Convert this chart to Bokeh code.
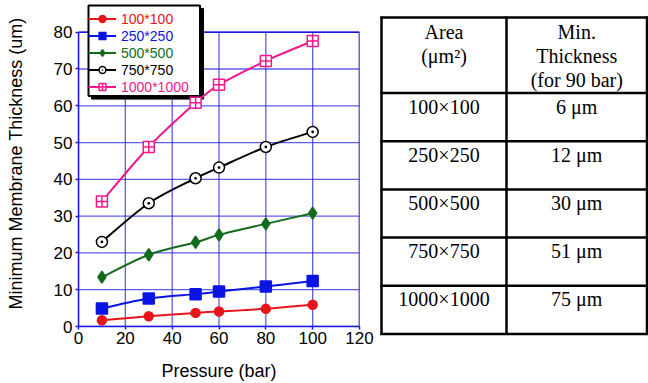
from bokeh.plotting import figure
from bokeh.models import Range1d, FixedTicker, Legend, LegendItem
from bokeh.layouts import row
from bokeh.core.properties import value
from bokeh.embed import file_html
from bokeh.resources import INLINE

# ---------------- data ----------------
pressure = [10, 30, 50, 60, 80, 100]
t100 = [1.7, 2.8, 3.7, 4.1, 4.8, 5.9]
t250 = [4.9, 7.6, 8.8, 9.5, 10.9, 12.4]
t500 = [13.4, 19.5, 22.9, 24.9, 27.9, 30.8]
t750 = [23.0, 33.5, 40.3, 43.2, 48.8, 52.9]
t1000 = [34.0, 48.8, 60.8, 65.7, 72.2, 77.6]
series_labels = ["100*100", "250*250", "500*500", "750*750", "1000*1000"]

x_ticks = [0, 20, 40, 60, 80, 100, 120]
y_ticks = [0, 10, 20, 30, 40, 50, 60, 70, 80]

table_areas = ["100×100", "250×250", "500×500", "750×750", "1000×1000"]
table_thickness = ["6 μm", "12 μm", "30 μm", "51 μm", "75 μm"]
header_col1 = ["Area", "(μm²)"]
header_col2 = ["Min.", "Thickness", "(for 90 bar)"]

# ---------------- styles ----------------
colors = ["#e8141c", "#0a14e6", "#136b1e", "#000000", "#f2188c"]
markers = ["circle", "square", "diamond", "circle_dot", "square_cross"]
msizes = [9, 11, 12, 11, 11]
mfill = ["#e8141c", "#0a14e6", "#136b1e", "white", "white"]
BLUE = "#1a1ae0"
SANS = "Liberation Sans"
SERIF = "Liberation Serif"

W1, H = 376, 383
W2 = 648 - W1
LEFT, RIGHT, BOTTOM = 78, 17, 54
TOP_80 = 32          # pixel row of the y=80 line
x_max, y_max = x_ticks[-1], y_ticks[-1]
PX_Y = (H - BOTTOM - TOP_80) / float(y_max)
PX_X = (W1 - LEFT - RIGHT) / float(x_max)


def dx(px):   # canvas pixel column -> data x
    return (px - LEFT) / PX_X


def dy(py):   # canvas pixel row -> data y
    return (H - BOTTOM - py) / PX_Y


# ---------------- chart ----------------
p = figure(width=W1, height=H, output_backend="svg", toolbar_location=None,
           title=None,
           x_range=Range1d(0, x_max),
           y_range=Range1d(0, y_max + TOP_80 / PX_Y),
           min_border_left=LEFT, min_border_right=RIGHT, min_border_top=0,
           min_border_bottom=BOTTOM)
p.frame_align = False
p.background_fill_color = "white"
p.border_fill_color = "white"
p.outline_line_color = None
p.xgrid.visible = False
p.ygrid.visible = False

p.xaxis.ticker = FixedTicker(ticks=x_ticks)
p.yaxis.ticker = FixedTicker(ticks=y_ticks)
p.yaxis.bounds = (0, y_max)
for ax in (p.xaxis[0], p.yaxis[0]):
    ax.axis_line_color = BLUE
    ax.axis_line_width = 1.5
    ax.major_tick_line_color = BLUE
    ax.major_tick_line_width = 1.5
    ax.major_tick_out = 3
    ax.major_tick_in = 0
    ax.minor_tick_line_color = None
    ax.major_label_text_font = SANS
    ax.major_label_text_font_size = "17px"
    ax.major_label_text_color = "black"
    ax.axis_label_text_font = SANS
    ax.axis_label_text_font_size = "18px"
    ax.axis_label_text_font_style = "normal"
    ax.axis_label_text_color = "black"
p.xaxis.axis_label = "Pressure (bar)"
p.yaxis.axis_label = "Minimum Membrane Thickness (um)"
p.xaxis.major_label_standoff = 2
p.xaxis.axis_label_standoff = 14
p.yaxis.major_label_standoff = 3
p.yaxis.axis_label_standoff = 25

# grid lines (limited to the 0..80 region) and the frame's top/right borders
p.segment(x0=x_ticks, y0=[0] * len(x_ticks), x1=x_ticks, y1=[y_max] * len(x_ticks),
          line_color=BLUE, line_alpha=0.7, line_width=1.3)
p.segment(x0=[0] * len(y_ticks), y0=y_ticks, x1=[x_max] * len(y_ticks), y1=y_ticks,
          line_color=BLUE, line_alpha=0.7, line_width=1.3)
p.segment(x0=[0, x_max], y0=[y_max, 0], x1=[x_max, x_max], y1=[y_max, y_max],
          line_color=BLUE, line_width=1.5)

# legend frame with drop shadow
p.quad(left=[dx(91)], right=[dx(203)], top=[dy(8)], bottom=[dy(99.5)],
       fill_color="black", line_color="black", line_width=1)
p.quad(left=[dx(88)], right=[dx(199.5)], top=[dy(5)], bottom=[dy(96.5)],
       fill_color="white", line_color="black", line_width=2)


def smooth(xs, ys):
    n = len(xs)
    out = dict(x0=[], y0=[], x1=[], y1=[], cx0=[], cy0=[], cx1=[], cy1=[])
    for i in range(n - 1):
        im = max(i - 1, 0)
        ip = min(i + 2, n - 1)
        out["x0"].append(xs[i]); out["y0"].append(ys[i])
        out["x1"].append(xs[i + 1]); out["y1"].append(ys[i + 1])
        out["cx0"].append(xs[i] + (xs[i + 1] - xs[im]) / 6.0)
        out["cy0"].append(ys[i] + (ys[i + 1] - ys[im]) / 6.0)
        out["cx1"].append(xs[i + 1] - (xs[ip] - xs[i]) / 6.0)
        out["cy1"].append(ys[i + 1] - (ys[ip] - ys[i]) / 6.0)
    return out


all_series = [t100, t250, t500, t750, t1000]
rends = []
for ys, c, m, s, f in zip(all_series, colors, markers, msizes, mfill):
    b = smooth(pressure, ys)
    br = p.bezier(line_color=c, line_width=2, **b)
    sr = p.scatter(x=pressure, y=ys, marker=m, size=s, fill_color=f,
                   line_color=c, line_width=1.5)
    rends.append((br, sr))

ROW = 17
PAD = 4
n_items = len(series_labels)
leg_h = 2 * PAD + n_items * ROW
frame_h = H - BOTTOM
lx = 10
ly = frame_h - 5 - leg_h
common = dict(padding=PAD, spacing=0, margin=0, label_height=ROW, glyph_height=ROW,
              glyph_width=28, label_standoff=5, label_text_line_height=1.0,
              label_text_font=SANS, label_text_font_size="14px")

for i, (lab, c) in enumerate(zip(series_labels, colors)):
    lg = Legend(items=[LegendItem(label=lab, renderers=list(rends[i]))],
                location=(lx, ly + (n_items - 1 - i) * ROW), border_line_color=None,
                background_fill_alpha=0, label_text_color=c, **common)
    p.add_layout(lg)

# ---------------- table ----------------
t = figure(width=W2, height=H, output_backend="svg", toolbar_location=None,
           title=None,
           x_range=Range1d(0, W2), y_range=Range1d(H, 0),
           x_axis_location=None, y_axis_location=None,
           min_border=0, min_border_left=0, min_border_right=0,
           min_border_top=0, min_border_bottom=0)
t.frame_align = False
t.outline_line_color = None
t.grid.visible = False
t.background_fill_color = "white"
t.border_fill_color = "white"

left_x, mid_x, right_x = 5, 130, 270.5
top_y, head_h, row_h = 17, 75.5, 48.2
row_tops = [top_y + head_h + i * row_h for i in range(len(table_areas) + 1)]
h_lines = [top_y] + row_tops
t.multi_line(xs=[[left_x - 1, right_x + 1] for _ in h_lines], ys=[[y, y] for y in h_lines],
             line_color="black", line_width=2.5)
bottom = h_lines[-1]
t.multi_line(xs=[[x, x] for x in (left_x, mid_x, right_x)],
             ys=[[top_y - 1, bottom + 1] for _ in range(3)],
             line_color="black", line_width=2.5)

c1 = (left_x + mid_x) / 2
c2 = (mid_x + right_x) / 2
tf = dict(text_font=value(SERIF), text_font_size=value("20px"),
          text_align="center", text_baseline="alphabetic", text_color="black")
t.text(x=[c1] * len(header_col1), y=[top_y + 14 + 24 * i for i in range(len(header_col1))],
       text=header_col1, **tf)
t.text(x=[c2] * len(header_col2), y=[top_y + 14 + 24 * i for i in range(len(header_col2))],
       text=header_col2, **tf)
t.text(x=[c1] * len(table_areas), y=[rt + 13.5 for rt in row_tops[:-1]],
       text=table_areas, **tf)
t.text(x=[c2] * len(table_thickness), y=[rt + 13.5 for rt in row_tops[:-1]],
       text=table_thickness, **tf)

layout = row(p, t)
open("out.html", "w").write(file_html(layout, INLINE))
